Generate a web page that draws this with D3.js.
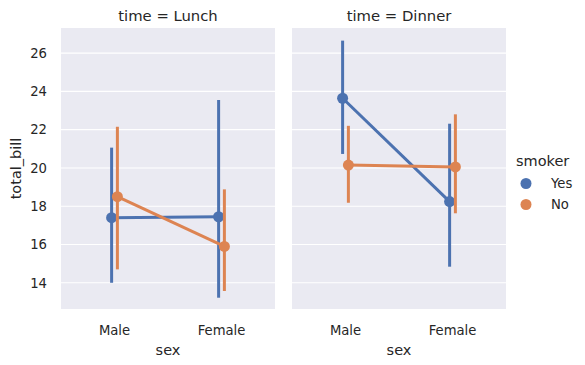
<!DOCTYPE html>
<html><head><meta charset="utf-8">
<script src="https://cdn.jsdelivr.net/npm/d3@7"></script>
<style>body{margin:0;background:#fff}svg{display:block}text{font-family:"DejaVu Sans",sans-serif;fill:#262626}</style>
</head><body><div id="chart"></div>
<script>
const panels = ["Lunch", "Dinner"];
const categories = ["Male", "Female"];
const smokers = ["Yes", "No"];
const colors = ["#4c72b0", "#dd8452"];
const yTicks = [14, 16, 18, 20, 22, 24, 26];
// means [panel][smoker][category]
const means = {
  Lunch: { Yes: [17.40, 17.45], No: [18.50, 15.90] },
  Dinner: { Yes: [23.64, 18.24], No: [20.15, 20.05] }
};
const ciLow = {
  Lunch: { Yes: [14.00, 13.22], No: [14.70, 13.57] },
  Dinner: { Yes: [20.73, 14.84], No: [18.18, 17.63] }
};
const ciHigh = {
  Lunch: { Yes: [21.06, 23.55], No: [22.15, 18.88] },
  Dinner: { Yes: [26.65, 22.31], No: [22.20, 22.80] }
};

(function () {
const W = 585, H = 365;
const svg = d3.select("#chart").append("svg").attr("width", W).attr("height", H);
const plotTop = 28, plotBottom = 309;
const panelX = [61, 292], pw = 214;
const y = d3.scaleLinear().domain([12.63, 27.31]).range([plotBottom, plotTop]);

panels.forEach((p, pi) => {
  const x0 = panelX[pi];
  const x = d3.scaleLinear().domain([-0.5, 1.5]).range([x0, x0 + pw]);
  const g = svg.append("g");
  g.append("rect").attr("x", x0).attr("y", plotTop).attr("width", pw).attr("height", plotBottom - plotTop).attr("fill", "#eaeaf2");
  g.selectAll("line.grid").data(yTicks).enter().append("line")
    .attr("x1", x0).attr("x2", x0 + pw).attr("y1", d => y(d)).attr("y2", d => y(d))
    .attr("stroke", "#fff").attr("stroke-width", 1.1);
  if (pi === 0) {
    g.selectAll("text.yt").data(yTicks).enter().append("text")
      .attr("x", x0 - 14).attr("y", d => y(d)).attr("dy", "0.36em")
      .attr("text-anchor", "end").attr("font-size", 13.2).text(d => d);
    g.append("text").attr("transform", `translate(21,${(plotTop + plotBottom) / 2}) rotate(-90)`)
      .attr("text-anchor", "middle").attr("font-size", 14.5).text("total_bill");
  }
  g.selectAll("text.xt").data(categories).enter().append("text")
    .attr("x", (d, i) => x(i)).attr("y", 335).attr("text-anchor", "middle")
    .attr("font-size", 13.2).text(d => d);
  g.append("text").attr("x", x0 + pw / 2).attr("y", 355).attr("text-anchor", "middle")
    .attr("font-size", 14.5).text("sex");
  g.append("text").attr("x", x0 + pw / 2).attr("y", 21).attr("text-anchor", "middle")
    .attr("font-size", 14.8).text("time = " + p);

  smokers.forEach((s, si) => {
    const off = si === 0 ? -0.027 : 0.027;
    const pts = categories.map((c, ci) => ({ cx: x(ci + off), m: means[p][s][ci], lo: ciLow[p][s][ci], hi: ciHigh[p][s][ci] }));
    const col = colors[si];
    g.append("path").datum(pts)
      .attr("d", d3.line().x(d => d.cx).y(d => y(d.m)))
      .attr("fill", "none").attr("stroke", col).attr("stroke-width", 3);
    g.selectAll(null).data(pts).enter().append("line")
      .attr("x1", d => d.cx).attr("x2", d => d.cx)
      .attr("y1", d => y(d.lo)).attr("y2", d => y(d.hi))
      .attr("stroke", col).attr("stroke-width", 3);
    g.selectAll(null).data(pts).enter().append("circle")
      .attr("cx", d => d.cx).attr("cy", d => y(d.m)).attr("r", 5.5).attr("fill", col);
  });
});

// legend
const lg = svg.append("g");
lg.append("text").attr("x", 516).attr("y", 166).attr("font-size", 14.5).text("smoker");
smokers.forEach((s, i) => {
  lg.append("circle").attr("cx", 526).attr("cy", 183.5 + i * 21).attr("r", 5.5).attr("fill", colors[i]);
  lg.append("text").attr("x", 551).attr("y", 183.5 + i * 21).attr("dy", "0.36em").attr("font-size", 13.2).text(s);
});
})();
</script></body></html>
